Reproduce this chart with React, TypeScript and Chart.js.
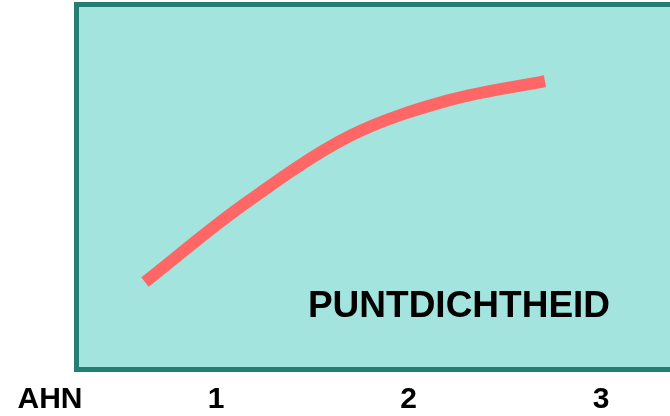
import React, { useEffect, useRef } from "react";
import { Chart, registerables } from "chart.js";

Chart.register(...registerables);

// AHN version (x) vs. relative point density (y, arbitrary 0-100 units)
const ahnVersion: number[] = [0.631, 1.125, 1.696, 2.216, 2.709];
const pointDensity: number[] = [23.6, 44.4, 64.2, 74.2, 79.4];
const tickValues: number[] = [1, 2, 3];
const tickLabels: string[] = ["1", "2", "3"];
const axisName = "AHN";
const seriesLabel = "PUNTDICHTHEID";

const FILL = "#a3e5de";
const BORDER = "#247e73";
const LINE = "#ff6666";

const boxPlugin = {
  id: "boxPlugin",
  beforeDatasetsDraw(chart: any) {
    const { ctx, chartArea } = chart;
    const { left, top, right, bottom } = chartArea;
    ctx.save();
    ctx.fillStyle = FILL;
    ctx.fillRect(left - 3, top - 3, right - left + 10, bottom - top + 6);
    ctx.strokeStyle = BORDER;
    ctx.lineWidth = 5;
    ctx.beginPath();
    ctx.moveTo(right + 10, top - 2.5);
    ctx.lineTo(left - 2.5, top - 2.5);
    ctx.lineTo(left - 2.5, bottom + 2.5);
    ctx.lineTo(right + 10, bottom + 2.5);
    ctx.stroke();
    ctx.restore();
  },
  afterDatasetsDraw(chart: any) {
    const { ctx } = chart;
    const xs = chart.scales.x;
    ctx.save();
    ctx.fillStyle = "#000000";
    ctx.font = "bold 37px 'Liberation Sans', Arial, sans-serif";
    ctx.textAlign = "center";
    ctx.textBaseline = "alphabetic";
    ctx.fillText(seriesLabel, 459, 317);
    ctx.font = "bold 30px 'Liberation Sans', Arial, sans-serif";
    ctx.fillText(axisName, 50, 408);
    tickValues.forEach((v, i) => {
      ctx.fillText(tickLabels[i], xs.getPixelForValue(v), 408);
    });
    ctx.restore();
  },
};

export default function App() {
  const ref = useRef<HTMLCanvasElement | null>(null);
  useEffect(() => {
    if (!ref.current) return;
    const chart = new Chart(ref.current, {
      type: "line",
      data: {
        datasets: [
          {
            label: seriesLabel,
            data: ahnVersion.map((x, i) => ({ x, y: pointDensity[i] })),
            borderColor: LINE,
            borderWidth: 12,
            borderCapStyle: "butt",
            pointRadius: 0,
            cubicInterpolationMode: "monotone",
            fill: false,
          },
        ],
      },
      options: {
        responsive: false,
        animation: false,
        layout: { padding: { left: 79, top: 7, right: 0, bottom: 49 } },
        plugins: { legend: { display: false }, tooltip: { enabled: false } },
        scales: {
          x: { type: "linear", display: false, min: 0.2883, max: 3.3584 },
          y: { type: "linear", display: false, min: 0, max: 100 },
        },
      },
      plugins: [boxPlugin],
    });
    return () => chart.destroy();
  }, []);
  return (
    <div style={{ position: "absolute", left: 0, top: 0, width: 670, height: 416, background: "#fff" }}>
      <canvas ref={ref} width={670} height={416} />
    </div>
  );
}
